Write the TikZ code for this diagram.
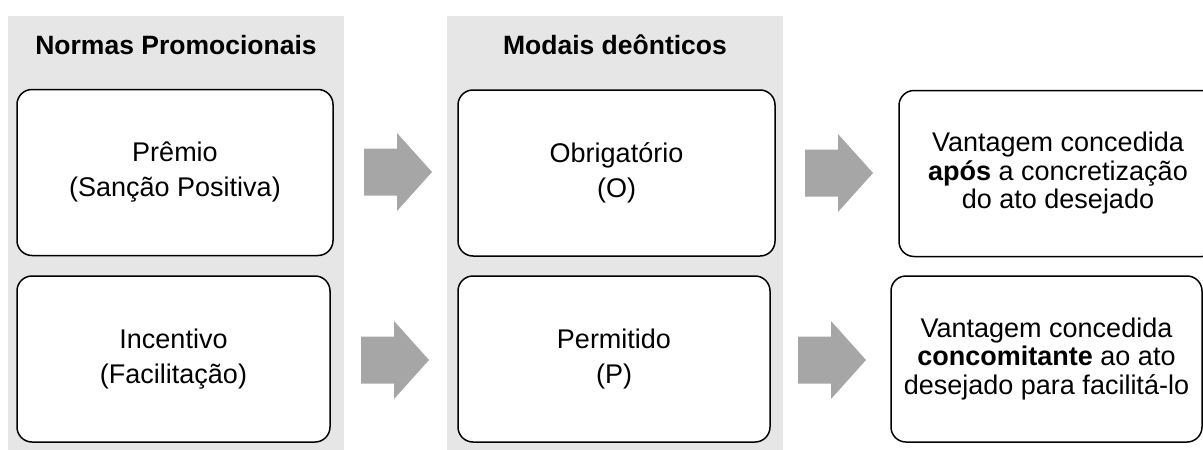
\documentclass[tikz,border=0pt]{standalone}
\usepackage{fontspec}
\setmainfont{Liberation Sans}
\usepackage{tikz}

\definecolor{cinzaclaro}{RGB}{230,230,230}
\definecolor{cinzaseta}{RGB}{166,166,166}

\tikzset{
	painel/.style={fill=cinzaclaro, draw=none, inner sep=0pt, minimum width=336pt, minimum height=434pt},
	titulo/.style={font=\bfseries\fontsize{26.5}{32}\selectfont},
	caixa/.style={draw, line width=1.5pt, rounded corners=15pt, fill=white, align=center,
		inner sep=0pt, minimum height=166pt, font=\fontsize{27}{35}\selectfont},
	caixad/.style={caixa, font=\fontsize{27}{28.5}\selectfont},
	seta/.pic={\fill[cinzaseta] (0,-23.5) -- (33,-23.5) -- (33,-39) -- (68,0) -- (33,39) -- (33,23.5) -- (0,23.5) -- cycle;}
}

\begin{document}
\begin{tikzpicture}[x=1pt, y=-1pt]
\useasboundingbox (0,0) rectangle (1203,450);

\path (176,233) node[painel] (p1) {}
		(615,233) node[painel] (p2) {}
		(176,45) node[titulo] (np) {Normas Promocionais}
		(615,45) node[titulo] (md) {Modais deônticos}
		(175,172.5) node[caixa, minimum width=316pt] (premio) {Prêmio\\(Sanção Positiva)}
		(173.5,359) node[caixa, minimum width=313pt] (incent) {Incentivo\\(Facilitação)}
		(616.5,173) node[caixa, minimum width=317pt] (obrig) {Obrigatório\\(O)}
		(614,359) node[caixa, minimum width=312pt] (perm) {Permitido\\(P)}
		(1058,173.5) node[caixad, minimum width=318pt] (apos) {Vantagem concedida\\\textbf{após} a concretização\\do ato desejado}
		(1046.5,359) node[caixad, minimum width=311pt] (concom) {Vantagem concedida\\\textbf{concomitante} ao ato\\desejado para facilitá-lo};

\pic at (364,172) {seta};
\pic at (361,360) {seta};
\pic at (805,173) {seta};
\pic at (798,360) {seta};
\end{tikzpicture}
\end{document}
